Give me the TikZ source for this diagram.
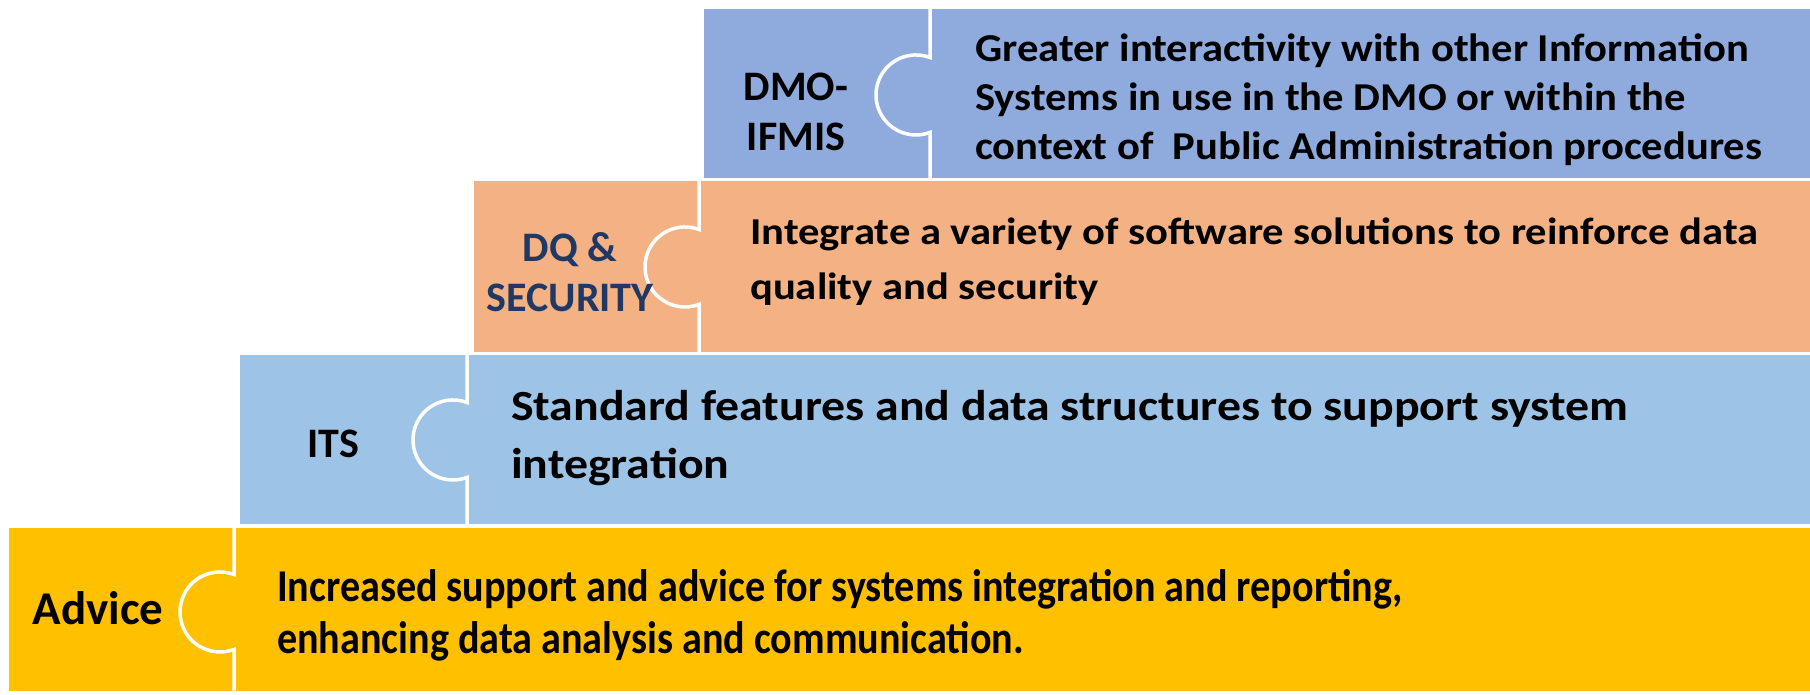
\documentclass[tikz,border=0pt]{standalone}
\usepackage{fontspec}
\setmainfont{Carlito}
\usetikzlibrary{positioning}

\definecolor{advicefill}{HTML}{FFC000}
\definecolor{itsfill}{HTML}{9DC3E6}
\definecolor{dqfill}{HTML}{F4B183}
\definecolor{dmofill}{HTML}{8FAADC}
\definecolor{dqtext}{HTML}{203864}

\tikzset{
  tile/.style={draw=white, line width=3pt},
  joint/.style={draw=white, line width=3.5pt},
  tag/.style={font=\bfseries\fontsize{42}{50}\selectfont, align=center, inner sep=0pt},
  % size, line skip, horizontal stretch
  blurb/.style n args={3}{font=\bfseries\fontsize{#1}{#2}\selectfont\addfontfeature{FakeStretch=#3},
    align=left, anchor=west, inner sep=0pt},
}

\begin{document}
\begin{tikzpicture}[x=1pt,y=1pt]
  \useasboundingbox (0,0) rectangle (1810,694);

  % bottom row: advice
  \fill[advicefill,tile] (7,2) rectangle (1812,168);
  \draw[joint] (234,168) -- (234,119.5) arc(69.5:290.5:40) -- (234,2);
  \node[tag,font=\bfseries\fontsize{47}{50}\selectfont] (advice) at (98,86) {Advice};
  \node[blurb={45.5}{52}{0.882}] (advicetxt) at (277,78.6) {Increased support and advice for systems integration and reporting,\\enhancing data analysis and communication.};

  % second row: ITS
  \fill[itsfill,tile] (238,168) rectangle (1812,340);
  \draw[joint] (467,340) -- (467,291.5) arc(69.5:290.5:40) -- (467,168);
  \node[tag] (its) at (333,250) {ITS};
  \node[blurb={43}{58}{1.112}] (itstxt) at (511,256) {Standard features and data structures to support system\\integration};

  % third row: data quality
  \fill[dqfill,tile] (472,340) rectangle (1812,514);
  \draw[joint] (699,514) -- (699,464.5) arc(69.5:290.5:40) -- (699,340);
  \node[tag,text=dqtext] (dq) at (570,422) {DQ \&\\SECURITY};
  \node[blurb={38}{55}{1.121}] (dqtxt) at (750,432.5) {Integrate a variety of software solutions to reinforce data\\quality and security};

  % top row: DMO-IFMIS
  \fill[dmofill,tile] (702,514) rectangle (1812,686);
  \draw[joint] (930,686) -- (930,636.5) arc(69.5:290.5:40) -- (930,514);
  \node[tag] (dmo) at (796,582.5) {DMO-\\IFMIS};
  \node[blurb={39.5}{49}{1.079}] (dmotxt) at (975,594.5) {Greater interactivity with other Information\\Systems in use in the DMO or within the\\context of\ \ Public Administration procedures};
\end{tikzpicture}
\end{document}
